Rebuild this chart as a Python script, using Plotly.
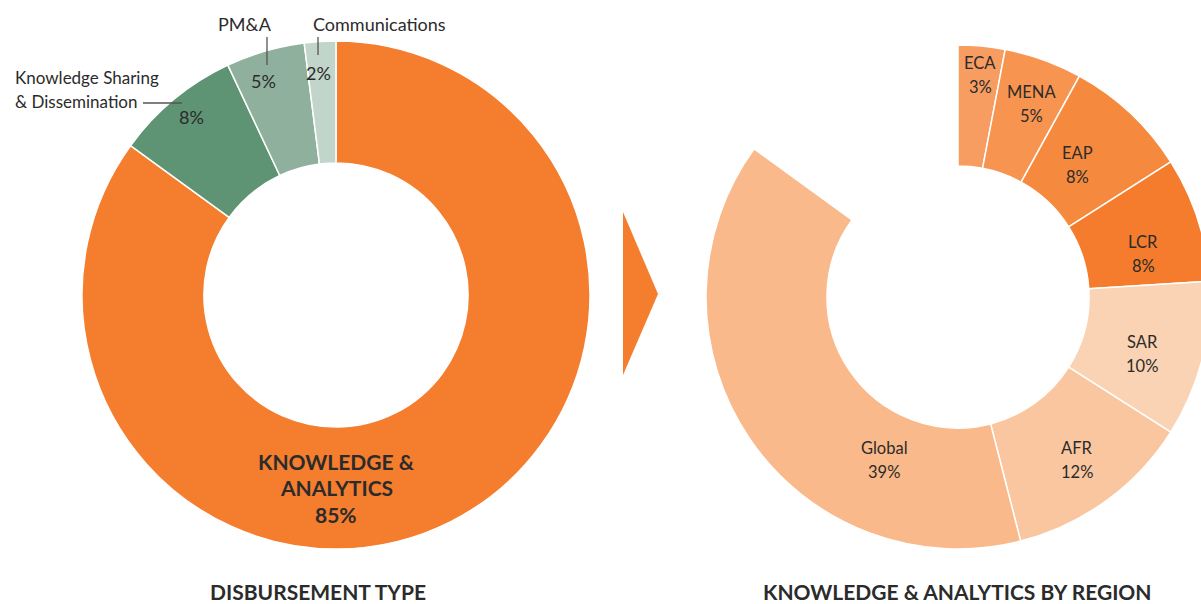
import plotly.graph_objects as go

# disbursement type shares (%)
type_labels = ["Knowledge & Analytics", "Knowledge Sharing & Dissemination", "PM&A", "Communications"]
type_share = [85, 8, 5, 2]
type_colors = ["#F47D2E", "#5E9474", "#8FB09C", "#C1D5CA"]

# knowledge & analytics split by region (% of total disbursement)
region_labels = ["ECA", "MENA", "EAP", "LCR", "SAR", "AFR", "Global"]
region_share = [3, 5, 8, 8, 10, 12, 39]
region_colors = ["#F79D61", "#F69450", "#F58A3F", "#F47C2C", "#FAD3B4", "#F9C6A0", "#F9B98A"]

# the region donut runs past the right edge of the 1201px view, so the canvas is a bit wider
W, H = 1212, 604
FONT = "Lato"
TXT = "#2B2B2B"


def pie_domain(cx, cy, r):
    return dict(x=[(cx - r) / W, (cx + r) / W], y=[1 - (cy + r) / H, 1 - (cy - r) / H])


fig = go.Figure()

fig.add_trace(go.Pie(
    labels=type_labels, values=type_share, sort=False, direction="clockwise", rotation=0,
    hole=0.52, marker=dict(colors=type_colors, line=dict(color="white", width=1.5)),
    textinfo="none", domain=pie_domain(336, 295, 254), showlegend=False,
))

# the region pie only covers the K&A part, the rest is left blank
blank = 100 - sum(region_share)
fig.add_trace(go.Pie(
    labels=region_labels + [" "], values=region_share + [blank], sort=False,
    direction="clockwise", rotation=0, hole=0.52,
    marker=dict(colors=region_colors + ["rgba(0,0,0,0)"],
                line=dict(color=["white"] * len(region_labels) + ["rgba(0,0,0,0)"], width=1.5)),
    textinfo="none", domain=pie_domain(958, 297, 252), showlegend=False,
))

ann = []


def label(x, y, text, size=16.5, bold=False, anchor="center"):
    ann.append(dict(x=x, y=y, xref="x", yref="y", text=text, showarrow=False, xanchor=anchor,
                    yanchor="middle", font=dict(family=FONT, size=size, color=TXT,
                                                weight="bold" if bold else "normal")))


# left donut labels
label(336, 461, "KNOWLEDGE &", 21, True)
label(336, 487, "ANALYTICS", 21, True)
label(336, 514, f"{type_share[0]}%", 21, True)
label(13, 77, "Knowledge Sharing", 17, anchor="left")
label(13, 101, "& Dissemination", 17, anchor="left")
label(191, 117, f"{type_share[1]}%", 18)
label(245, 24, type_labels[2], 18)
label(263, 81, f"{type_share[2]}%", 18)
label(311, 24, type_labels[3], 18, anchor="left")
label(318, 73, f"{type_share[3]}%", 18)

# right donut labels
region_pos = [(980, 63), (1031, 92), (1077, 153), (1143, 242), (1142, 342), (1077, 448), (884, 448)]
for (x, y), lab, v in zip(region_pos, region_labels, region_share):
    label(x, y, lab)
    label(x, y + 24, f"{v}%")

label(318, 591, "DISBURSEMENT TYPE", 21, True)
label(957, 591, "KNOWLEDGE & ANALYTICS BY REGION", 21, True)

shapes = [
    dict(type="line", x0=143, y0=103, x1=182, y1=103, line=dict(color="#555", width=1.3)),
    dict(type="line", x0=267, y0=37, x1=267, y1=65, line=dict(color="#555", width=1.3)),
    dict(type="line", x0=318, y0=37, x1=318, y1=55, line=dict(color="#555", width=1.3)),
    dict(type="path", path="M 623 212 L 658 294 L 623 375 Z", fillcolor="#F47D2E", line=dict(width=0)),
]

fig.update_layout(
    width=W, height=H, margin=dict(l=0, r=0, t=0, b=0),
    paper_bgcolor="white", plot_bgcolor="rgba(0,0,0,0)",
    xaxis=dict(range=[0, W], visible=False, fixedrange=True),
    yaxis=dict(range=[H, 0], visible=False, fixedrange=True),
    annotations=ann, shapes=shapes, font=dict(family=FONT),
)

# no page margin / scrollbars, the figure sits at the window's corner
fig.write_html("out.html", config={"displayModeBar": False},
               post_script="document.body.style.margin = '0'; document.body.style.overflow = 'hidden';")
